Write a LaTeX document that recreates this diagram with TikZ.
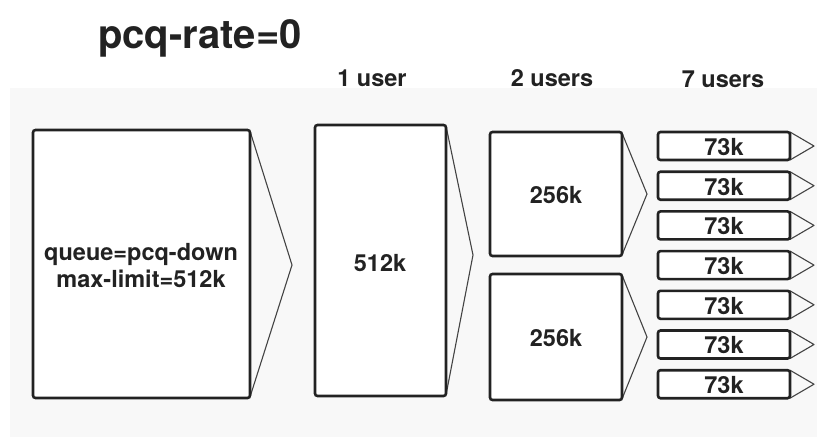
\documentclass[tikz,border=0pt]{standalone}
\usepackage{fontspec}
\setmainfont{TeX Gyre Heros}
\definecolor{ink}{HTML}{222222}
\definecolor{panel}{HTML}{F8F8F8}
\begin{document}
\begin{tikzpicture}[x=1pt,y=-1pt,
  frame/.style={draw=ink,line width=2.6pt,fill=white,rounded corners=2.5pt},
  tip/.style={draw=ink!85,line width=1.1pt,line join=round},
  lbl/.style={font=\bfseries\fontsize{23.5}{27}\selectfont,text=ink,align=center},
  hdr/.style={font=\bfseries\fontsize{23.5}{27}\selectfont,text=ink}]
\useasboundingbox (0,0) rectangle (817,437);
\fill[white] (0,0) rectangle (817,437);
\fill[panel] (10,88) rectangle (817,437);

% title and column headings
\node[font=\bfseries\fontsize{40}{46}\selectfont,text=ink] (title) at (200,38) {pcq-rate=0};
\node[hdr] (h1) at (372,78) {1 user};
\node[hdr] (h2) at (552,78) {2 users};
\node[hdr] (h7) at (723,79) {7 users};

% parent queue
\draw[tip] (250,131) -- (292,265) -- (250,397);
\draw[frame] (33,130) rectangle (250,398);
\node[lbl] (parent) at (141,266) {queue=pcq-down\\max-limit=512k};

% one user
\draw[tip] (446,126) -- (473,255) -- (446,395);
\draw[frame] (315,125) rectangle (446,396);
\node[lbl] (one) at (380,263) {512k};

% two users
\foreach \t/\b/\n in {132/256/a,274/400/b}{
  \draw[tip] (622,\t+1) -- (647,{(\t+\b)/2}) -- (622,\b-1);
  \draw[frame] (490,\t) rectangle (622,\b);
  \node[lbl] (two\n) at (556,{(\t+\b)/2+1}) {256k};
}

% seven users
\foreach \i in {0,...,6}{
  \pgfmathsetmacro{\c}{146+39.7*\i}
  \draw[tip] (790,\c-14) -- (814,\c) -- (790,\c+14);
  \draw[frame] (658,\c-14) rectangle (790,\c+14);
  \node[lbl] (seven\i) at (724,\c+1) {73k};
}
\end{tikzpicture}
\end{document}
